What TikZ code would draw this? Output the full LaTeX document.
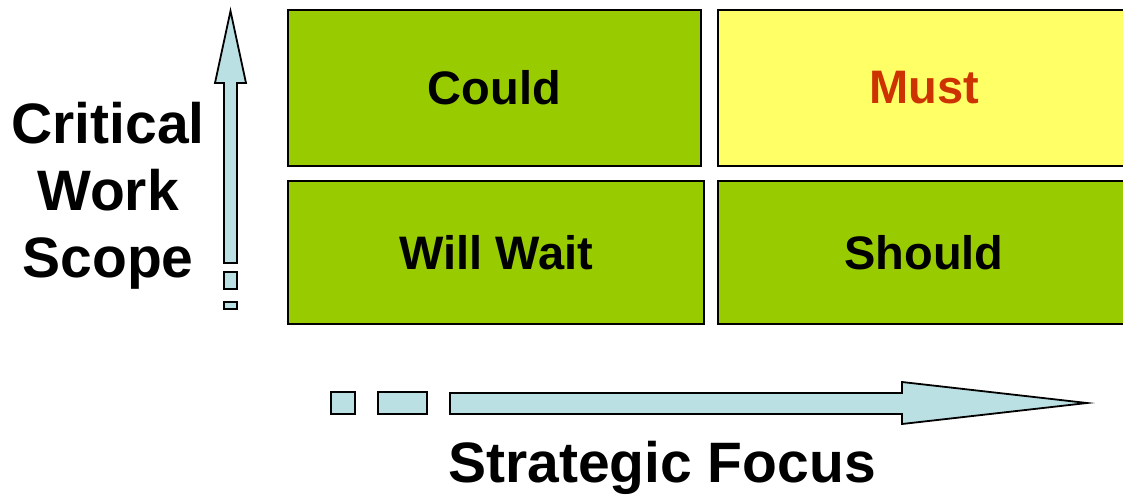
\documentclass[tikz,border=0pt]{standalone}
\usepackage{fontspec}
\setmainfont{Liberation Sans}
\definecolor{leaf}{HTML}{99CC00}
\definecolor{lemon}{HTML}{FFFF66}
\definecolor{rust}{HTML}{CC3300}
\definecolor{ice}{HTML}{BBE0E3}
\tikzset{
  quad/.style={draw=black, line width=1.8pt, inner sep=0pt, minimum height=#1,
    font=\fontsize{47}{56}\selectfont\bfseries},
  axis/.style={font=\fontsize{57}{67}\selectfont\bfseries, align=center},
  shaft/.style={draw=black, fill=ice, line width=1.8pt, line join=miter}
}
\begin{document}
\begin{tikzpicture}[x=1pt, y=-1pt]
\useasboundingbox (0,0) rectangle (1123,501);
% the four boxes
\node[quad=156pt, fill=leaf, minimum width=413pt] (could) at (494.5,88) {\raisebox{-2pt}{Could}};
\node[quad=156pt, fill=lemon, minimum width=412pt, text=rust] (must) at (924,88) {\raisebox{-2pt}{Must}};
\node[quad=143pt, fill=leaf, minimum width=416pt] (wait) at (496,252.5) {\raisebox{-2pt}{Will Wait}};
\node[quad=143pt, fill=leaf, minimum width=412pt] (should) at (924,252.5) {\raisebox{-2pt}{Should}};
% vertical arrow
\draw[shaft] (230.5,11)--(246,83)--(237,83)--(237,263)--(224,263)--(224,83)--(215,83)--cycle;
\draw[shaft] (224,272) rectangle (237,289);
\draw[shaft] (224,302) rectangle (237,309);
% horizontal arrow
\draw[shaft] (331,392) rectangle (355,414);
\draw[shaft] (378,392) rectangle (427,414);
\draw[shaft] (450,393)--(902,393)--(902,382)--(1087,403)--(902,424)--(902,414)--(450,414)--cycle;
% labels
\node[axis] (scope) at (108,196) {Critical\\Work\\Scope};
\node[axis] (focus) at (662,468) {Strategic Focus};
\end{tikzpicture}
\end{document}
